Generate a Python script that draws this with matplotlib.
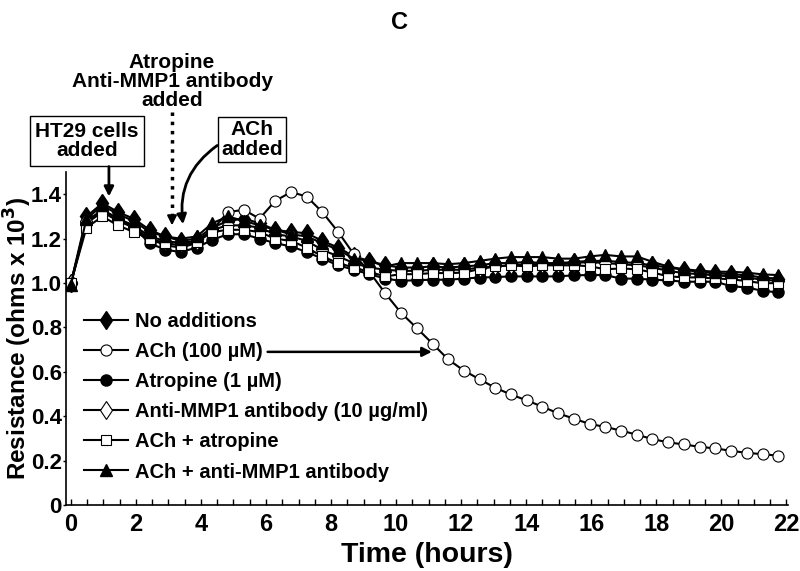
import matplotlib
matplotlib.use("Agg")
import matplotlib.pyplot as plt
from matplotlib.ticker import MultipleLocator

plt.rcParams['font.family'] = ['Liberation Sans', 'DejaVu Sans']
plt.rcParams['font.weight'] = 'bold'

## tiempos de muestreo (h)
times = [0, 0.48, 0.97, 1.45, 1.93, 2.42, 2.9, 3.38, 3.87, 4.35,
         4.83, 5.32, 5.8, 6.28, 6.77, 7.25, 7.73, 8.22, 8.7, 9.18,
         9.67, 10.15, 10.63, 11.12, 11.6, 12.08, 12.57, 13.05, 13.53, 14.02,
         14.5, 14.98, 15.47, 15.95, 16.43, 16.92, 17.4, 17.88, 18.37, 18.85,
         19.33, 19.82, 20.3, 20.78, 21.27, 21.75]

## resistencias (ohms x 10^3)
no_add = [1.00, 1.30, 1.36, 1.32, 1.29, 1.24, 1.21, 1.19, 1.20, 1.25,
          1.28, 1.29, 1.27, 1.24, 1.23, 1.225, 1.19, 1.16, 1.12, 1.10,
          1.08, 1.07, 1.07, 1.075, 1.07, 1.075, 1.08, 1.09, 1.09, 1.095,
          1.09, 1.09, 1.095, 1.10, 1.10, 1.095, 1.09, 1.08, 1.07, 1.06,
          1.05, 1.045, 1.04, 1.035, 1.025, 1.02]
ach = [1.00, 1.27, 1.32, 1.28, 1.25, 1.20, 1.17, 1.16, 1.18, 1.24,
       1.32, 1.33, 1.29, 1.37, 1.41, 1.39, 1.32, 1.23, 1.13, 1.05,
       0.953, 0.866, 0.798, 0.727, 0.656, 0.606, 0.566, 0.528, 0.498, 0.471,
       0.443, 0.413, 0.389, 0.365, 0.352, 0.335, 0.317, 0.297, 0.282, 0.273,
       0.262, 0.255, 0.244, 0.235, 0.229, 0.222]
atropine = [1.00, 1.27, 1.33, 1.29, 1.25, 1.18, 1.15, 1.14, 1.16, 1.195,
            1.22, 1.22, 1.20, 1.18, 1.165, 1.14, 1.11, 1.08, 1.06, 1.04,
            1.02, 1.01, 1.013, 1.015, 1.015, 1.02, 1.025, 1.027, 1.03, 1.03,
            1.03, 1.03, 1.035, 1.036, 1.036, 1.02, 1.02, 1.015, 1.012, 1.006,
            1.006, 1.006, 0.986, 0.98, 0.965, 0.958]
anti_mmp1 = [1.00, 1.28, 1.33, 1.29, 1.26, 1.21, 1.19, 1.18, 1.19, 1.24,
             1.26, 1.26, 1.25, 1.22, 1.21, 1.19, 1.15, 1.12, 1.09, 1.07,
             1.06, 1.055, 1.055, 1.06, 1.06, 1.06, 1.07, 1.075, 1.08, 1.085,
             1.085, 1.085, 1.09, 1.095, 1.09, 1.085, 1.08, 1.07, 1.055, 1.045,
             1.04, 1.035, 1.03, 1.025, 1.015, 1.01]
ach_atropine = [1.00, 1.25, 1.30, 1.26, 1.23, 1.20, 1.18, 1.17, 1.185, 1.23,
                1.24, 1.24, 1.23, 1.20, 1.19, 1.16, 1.12, 1.09, 1.07, 1.05,
                1.03, 1.04, 1.04, 1.045, 1.045, 1.047, 1.063, 1.075, 1.08, 1.075,
                1.08, 1.08, 1.08, 1.076, 1.062, 1.066, 1.062, 1.048, 1.03, 1.026,
                1.025, 1.021, 1.017, 1.009, 0.999, 1.00]
ach_anti = [0.99, 1.29, 1.35, 1.31, 1.28, 1.23, 1.21, 1.20, 1.21, 1.27,
            1.30, 1.28, 1.26, 1.24, 1.22, 1.21, 1.18, 1.15, 1.11, 1.10,
            1.075, 1.09, 1.09, 1.09, 1.085, 1.09, 1.10, 1.11, 1.117, 1.117,
            1.117, 1.11, 1.11, 1.12, 1.127, 1.12, 1.12, 1.096, 1.074, 1.062,
            1.056, 1.051, 1.051, 1.047, 1.039, 1.036]

fig = plt.figure(figsize=(8, 5.71), dpi=100)
ax = fig.add_axes([0.0825, 0.1156, 0.9025, 0.583])

lw = 1.5
ax.plot(times, no_add, '-d', color='k', mfc='k', ms=9.5, lw=lw, label='No additions')
ax.plot(times, ach, '-o', color='k', mfc='white', ms=8, lw=lw, mew=0.8, label='ACh (100 µM)')
ax.plot(times, atropine, '-o', color='k', mfc='k', ms=8, lw=lw, label='Atropine (1 µM)')
ax.plot(times, anti_mmp1, '-d', color='k', mfc='white', ms=9.5, lw=lw, mew=0.8, label='Anti-MMP1 antibody (10 µg/ml)')
ax.plot(times, ach_atropine, '-s', color='k', mfc='white', ms=7.5, lw=lw, mew=0.8, label='ACh + atropine')
ax.plot(times, ach_anti, '-^', color='k', mfc='k', ms=8.5, lw=lw, label='ACh + anti-MMP1 antibody')

ax.set_xlim(-0.15, 22.05)
ax.set_ylim(0, 1.5)
ax.xaxis.set_major_locator(MultipleLocator(2))
ax.xaxis.set_minor_locator(MultipleLocator(0.5))
ax.set_yticks([0, 0.2, 0.4, 0.6, 0.8, 1.0, 1.2, 1.4])
ax.set_yticklabels(['0', '0.2', '0.4', '0.6', '0.8', '1.0', '1.2', '1.4'])
ax.tick_params(axis='x', which='both', direction='in', length=4, width=1, labelsize=17, pad=6)
ax.tick_params(axis='y', direction='out', length=2, width=1, labelsize=16, pad=1)
for s in ['top', 'right']:
    ax.spines[s].set_visible(False)
for s in ['left', 'bottom']:
    ax.spines[s].set_linewidth(1.2)

ax.set_xlabel('Time (hours)', fontsize=20.5, fontweight='bold', labelpad=4)
ax.set_ylabel('Resistance (ohms x 10$^\\mathbf{3}$)', fontsize=17.5, fontweight='bold')
ax.yaxis.set_label_coords(-0.045, 0.5)
fig.text(0.5, 0.961, 'C', ha='center', va='center', fontsize=17, fontweight='bold')

ax.legend(loc='lower left', bbox_to_anchor=(0.0, 0.016), frameon=False, fontsize=14.5,
          handlelength=2.2, labelspacing=0.55, handletextpad=0.35, numpoints=1)

## flecha de la leyenda ACh
ax.annotate('', xy=(11.1, 0.69), xytext=(6.05, 0.69),
            arrowprops=dict(arrowstyle='-|>', color='k', lw=1.8, mutation_scale=14,
                            shrinkA=0, shrinkB=0))

## anotaciones
ax.text(0.49, 1.64, 'HT29 cells\nadded', ha='center', va='center', fontsize=15,
        fontweight='bold', linespacing=1.05, clip_on=False,
        bbox=dict(boxstyle='square,pad=0.25', fc='white', ec='k', lw=1))
ax.annotate('', xy=(1.17, 1.39), xytext=(1.17, 1.525), annotation_clip=False,
            arrowprops=dict(arrowstyle='-|>', color='k', lw=2, mutation_scale=14,
                            shrinkA=0, shrinkB=0))

ax.text(3.11, 1.91, 'Atropine\nAnti-MMP1 antibody\nadded', ha='center', va='center',
        fontsize=15, fontweight='bold', linespacing=1.0, clip_on=False)
ax.plot([3.11, 3.11], [1.77, 1.30], ':', color='k', lw=2.5, clip_on=False)
ax.annotate('', xy=(3.11, 1.26), xytext=(3.11, 1.30), annotation_clip=False,
            arrowprops=dict(arrowstyle='-|>', color='k', lw=1.5, mutation_scale=14,
                            shrinkA=0, shrinkB=0))

ax.text(5.57, 1.647, 'ACh\nadded', ha='center', va='center', fontsize=15,
        fontweight='bold', linespacing=1.05, clip_on=False,
        bbox=dict(boxstyle='square,pad=0.15', fc='white', ec='k', lw=1))
ax.annotate('', xy=(3.45, 1.265), xytext=(4.5, 1.62), annotation_clip=False,
            arrowprops=dict(arrowstyle='-|>', color='k', lw=2, mutation_scale=14,
                            shrinkA=0, shrinkB=0,
                            connectionstyle='arc3,rad=0.3'))

fig.savefig('out.png', dpi=100)
